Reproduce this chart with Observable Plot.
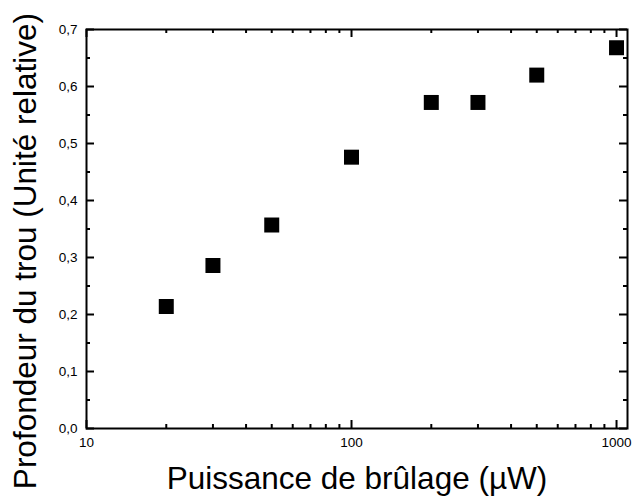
<!DOCTYPE html>
<html><head><meta charset="utf-8">
<script src="https://cdn.jsdelivr.net/npm/d3@7"></script>
<script src="https://cdn.jsdelivr.net/npm/@observablehq/plot@0.6"></script>
<style>body{margin:0;background:#fff}</style>
</head><body><div id="chart"></div>
<script>
const powers = [20, 30, 50, 100, 200, 300, 500, 1000];
const depths = [0.214, 0.286, 0.357, 0.476, 0.572, 0.572, 0.620, 0.668];
const xMajor = [10, 100, 1000];
const xMinor = [20, 30, 40, 50, 60, 70, 80, 90, 200, 300, 400, 500, 600, 700, 800, 900];
const yMajor = [0, 0.1, 0.2, 0.3, 0.4, 0.5, 0.6, 0.7];
const yMinor = [0.05, 0.15, 0.25, 0.35, 0.45, 0.55, 0.65];
const xTitle = ["Puissance de brûlage (µW)"];
const yTitle = ["Profondeur du trou (Unité relative)"];

const data = powers.map((p, i) => ({p, d: depths[i]}));
const fmt = v => d3.format(".1f")(v).replace(".", ",");
const sw = 2;

const W = 635, H = 497, mL = 86, mR = 8, mT = 29, mB = 69;
const fw = W - mL - mR, fh = H - mT - mB;
const big = 8, small = 4;

const chart = Plot.plot({
  width: W, height: H,
  marginLeft: mL, marginRight: mR, marginTop: mT, marginBottom: mB,
  style: {fontFamily: "'Liberation Sans', Arial, sans-serif", fontSize: "12px", color: "#000", background: "#fff"},
  x: {type: "log", domain: [10, 1100], axis: null},
  y: {domain: [0, 0.7], axis: null},
  marks: [
    Plot.frame({strokeWidth: sw}),
    // inside ticks, bottom / top
    Plot.tickX(xMajor, {x: d => d, insetTop: fh - big, strokeWidth: sw}),
    Plot.tickX(xMinor, {x: d => d, insetTop: fh - small, strokeWidth: sw}),
    Plot.tickX(xMajor, {x: d => d, insetBottom: fh - big, strokeWidth: sw}),
    Plot.tickX(xMinor, {x: d => d, insetBottom: fh - small, strokeWidth: sw}),
    // inside ticks, left / right
    Plot.tickY(yMajor, {y: d => d, insetRight: fw - big, strokeWidth: sw}),
    Plot.tickY(yMinor, {y: d => d, insetRight: fw - small, strokeWidth: sw}),
    Plot.tickY(yMajor, {y: d => d, insetLeft: fw - big, strokeWidth: sw}),
    Plot.tickY(yMinor, {y: d => d, insetLeft: fw - small, strokeWidth: sw}),
    // tick labels
    Plot.text(xMajor, {x: d => d, text: d => String(d), frameAnchor: "bottom", dy: 9, lineAnchor: "top", fontSize: 13.5}),
    Plot.text(yMajor, {y: d => d, text: fmt, frameAnchor: "left", dx: -9, textAnchor: "end", fontSize: 13.5}),
    // titles
    Plot.text(xTitle, {frameAnchor: "bottom", dy: 60, lineAnchor: "bottom", textAnchor: "middle", fontSize: 31.5}),
    Plot.text(yTitle, {frameAnchor: "left", dx: -51, dy: 22, rotate: -90, lineAnchor: "bottom", textAnchor: "middle", fontSize: 31.5}),
    // data
    Plot.dot(data, {x: "p", y: "d", symbol: "square", r: 8.46, fill: "#000", stroke: null})
  ]
});
document.getElementById("chart").append(chart);
</script>
</body></html>
